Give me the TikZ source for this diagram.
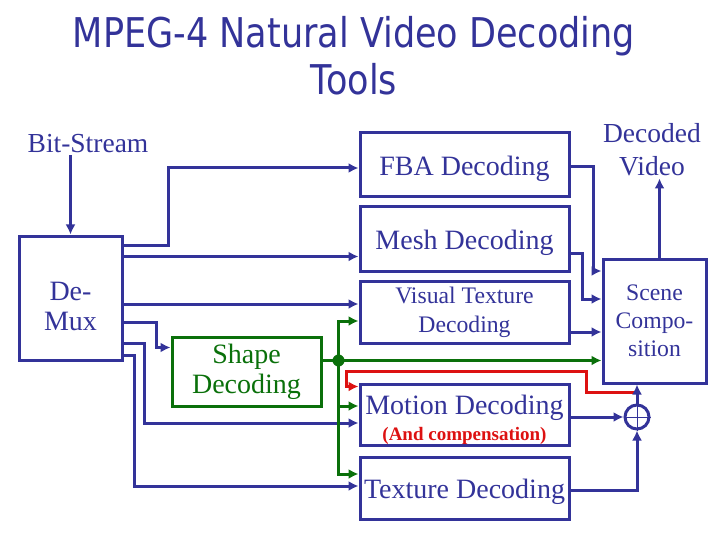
\documentclass[tikz,border=0pt]{standalone}
\usepackage{fontspec}
\setmainfont{Liberation Serif}
\newfontfamily\titlefont[FakeStretch=0.855]{DejaVu Sans}
\usetikzlibrary{calc, positioning, arrows.meta}
\definecolor{xnavy}{HTML}{333399}
\definecolor{xgreen}{HTML}{0A700A}
\definecolor{xred}{HTML}{DD1111}
\tikzset{
	decbox/.style={draw=xnavy, line width=3pt, text=xnavy, inner sep=0pt, align=center, font=\fontsize{28}{30}\selectfont},
	oneline/.style={text height=21pt, text depth=0pt},
	navyarr/.style={draw=xnavy, line width=3pt, -{Latex[length=10pt,width=10pt]}},
	greenarr/.style={draw=xgreen, line width=3pt, -{Latex[length=10pt,width=10pt]}},
	redarr/.style={draw=xred, line width=3pt, -{Latex[length=10pt,width=10pt]}},
}

\begin{document}
\begin{tikzpicture}[x=1pt, y=-1pt]
			\useasboundingbox (0,0) rectangle (720,540);
			\node[text=xnavy, font=\titlefont\fontsize{41}{47}\selectfont, align=center, inner sep=0pt] (title) at (354,56) {MPEG-4 Natural Video Decoding\\Tools};
			% blocks
			\node[decbox, minimum width=103pt, minimum height=124pt] (demux) at (70.5,298) {\rule{0pt}{35pt}De-\\Mux};
			\node[decbox, oneline, minimum width=209pt, minimum height=64pt] (fba) at (464.5,165) {FBA Decoding};
			\node[decbox, oneline, minimum width=209pt, minimum height=64pt] (mesh) at (464.5,239) {Mesh Decoding};
			\node[decbox, minimum width=209pt, minimum height=62pt, font=\fontsize{23.7}{29}\selectfont] (vtex) at (464.5,312) {Visual Texture\\Decoding};
			\node[decbox, minimum width=209pt, minimum height=61pt] (motion) at (464.5,414.5) {\rule{0pt}{30pt}Motion Decoding\\[-4pt]{\color{xred}\bfseries\fontsize{19}{22}\selectfont (And compensation)}};
			\node[decbox, oneline, minimum width=209pt, minimum height=62pt] (texture) at (464.5,488) {Texture Decoding};
			\node[decbox, draw=xgreen, text=xgreen, minimum width=149pt, minimum height=69pt] (shape) at (246.5,371.5) {Shape\\Decoding};
			\node[decbox, minimum width=103pt, minimum height=124pt, font=\fontsize{23.7}{28}\selectfont] (scene) at (654.5,321) {Scene\\Compo-\\sition};
			\node[circle, draw=xnavy, line width=3pt, minimum size=24pt, inner sep=0pt] (adder) at (637,417) {};
			\draw[xnavy, line width=1pt] (adder.north) -- (adder.south) (adder.west) -- (adder.east);
			\node[text=xnavy, inner sep=2pt, font=\fontsize{27.5}{30}\selectfont] (bitstream) at (88,144) {Bit-Stream};
			\node[text=xnavy, inner sep=2pt, align=center, font=\fontsize{27.5}{33}\selectfont] (decoded) at (652,150) {Decoded\\Video};
			% demux outputs
			\draw[navyarr] (demux.north |- bitstream.south) -- (demux.north);
			\draw[navyarr] ([yshift=-11pt]demux.north east) -- ++(45,0) |- ([yshift=-3pt]fba.west);
			\draw[navyarr] ([yshift=-22pt]demux.north east) coordinate (dm) -- (dm -| mesh.west);
			\draw[navyarr] ([yshift=-6pt]demux.east) coordinate (dv) -- (dv -| vtex.west);
			\draw[navyarr] ([yshift=-24pt]demux.east) -- ++(33,0) |- ([yshift=-12pt]shape.north west);
			\draw[navyarr] ([yshift=-45pt]demux.east) -- ++(21,0) |- ([yshift=-8.5pt]motion.west);
			\draw[navyarr] ([yshift=-57pt]demux.east) -- ++(11,0) |- ([yshift=2pt]texture.west);
			% shape outputs
			\coordinate (split) at ([xshift=16pt,yshift=11pt]shape.east);
			\draw[xgreen, line width=3pt] ([yshift=11pt]shape.east) -- (split);
			\draw[greenarr] (split) -- (split -| scene.west);
			\draw[greenarr] (split) |- ([yshift=-9pt]vtex.west);
			\draw[greenarr] (split) |- ([yshift=8.5pt]motion.west);
			\draw[greenarr] (split) |- ([yshift=14pt]texture.west);
			\fill[xgreen] (split) circle (6pt);
			% feedback
			\draw[redarr] ([yshift=11pt]adder.north) -- ++(-51,0) -- ++(0,-21) -| ([xshift=-12pt,yshift=-4pt]motion.north west) -- ([yshift=-4pt]motion.north west);
			% into scene composition
			\draw[navyarr] ([yshift=-2pt]fba.east) -- ++(23,0) |- ([yshift=50pt]scene.west);
			\draw[navyarr] ([yshift=-14pt]mesh.east) -- ++(12,0) |- ([yshift=22pt]scene.west);
			\draw[navyarr] ([yshift=-20pt]vtex.east) coordinate (vs) -- (vs -| scene.west);
			\draw[navyarr] (adder.west -| motion.east) -- (adder.west);
			\draw[navyarr] ([yshift=-2pt]texture.east) -| (adder.south);
			\draw[navyarr] (adder.north) -- (adder.north |- scene.south);
			\draw[navyarr] ([xshift=5pt]scene.north) -- ([xshift=5pt]scene.north |- decoded.south);
		\end{tikzpicture}
\end{document}
